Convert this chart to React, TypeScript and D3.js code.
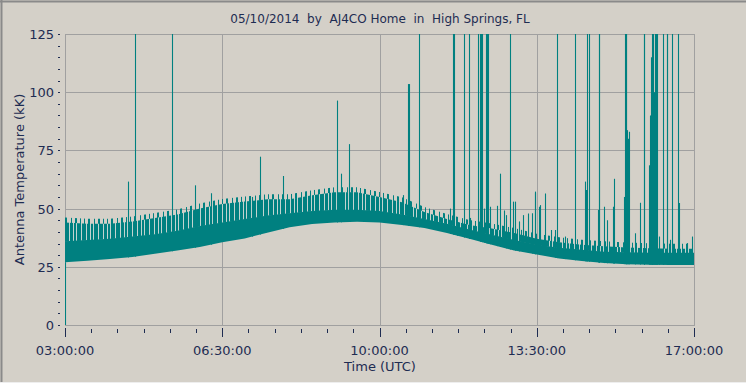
import React from "react";
import * as d3 from "d3";

// ---- Data ----
const title = "05/10/2014  by  AJ4CO Home  in  High Springs, FL";
const yTitle = "Antenna Temperature (kK)";
const xTitle = "Time (UTC)";

const xTickHours = [3, 6.5, 10, 13.5, 17];
const xTickLabels = ["03:00:00", "06:30:00", "10:00:00", "13:30:00", "17:00:00"];
const yTickValues = [0, 25, 50, 75, 100, 125];

// envelope sample times (UTC hours)
const envTimes = [3, 3.5, 4, 4.5, 5, 5.5, 6, 6.5, 7, 7.5, 8, 8.5, 9, 9.5, 10, 10.5, 11, 11.5, 12, 12.5, 13, 13.5, 14, 14.5, 15, 15.5, 16, 16.5, 17];
// bottom of noise band
const lowerEnv = [27, 27.6, 28.3, 29.2, 30.6, 32, 33.5, 35.5, 37.2, 39.6, 42, 43.4, 44, 44.4, 44, 43, 41.7, 39.5, 37, 34.5, 32, 30.3, 28.6, 27.5, 26.6, 26.1, 25.9, 25.8, 25.8];
// top of the solid part of the band
const denseTop = [36, 36.5, 37, 38, 39, 40.5, 42.5, 44, 45.5, 47, 48, 49, 49.5, 49.5, 49, 47.5, 45.5, 43.5, 41, 38.8, 36.5, 34.5, 33.2, 32.3, 31.5, 31.2, 31, 31, 31];
// tips of the noise fringe
const upperEnv = [44, 43.5, 43.5, 44.5, 46, 47.5, 50, 52, 53, 54, 54, 55.7, 57, 57, 55, 52.7, 48.5, 45.5, 43, 41.5, 39.5, 37, 35.5, 34.5, 33.8, 33.3, 33, 32.8, 32.8];

// individual spikes: time (hours) and peak value (kK); >125 means off the top
const spikeTimes = [
  3.0, 4.409, 4.558, 5.388, 5.9, 6.25, 7.155, 7.347, 7.859, 9.061, 9.15, 9.328,
  10.53, 10.634, 10.652, 10.886, 11.576, 11.636, 11.654, 11.732, 11.887, 11.998, 12.014, 12.185,
  12.248, 12.266, 12.284, 12.326, 12.381, 12.399, 12.417, 12.459, 12.622, 12.688, 12.771, 12.815,
  12.911, 12.964, 13.016, 13.112, 13.186, 13.312, 13.387, 13.461, 13.468, 13.557, 13.572, 13.69,
  13.817, 13.906, 13.957, 14.128, 14.358, 14.574, 14.59, 14.612, 14.663, 14.856, 14.878, 14.896,
  15.003, 15.063, 15.19, 15.226, 15.448, 15.464, 15.479, 15.495, 15.502, 15.52, 15.553, 15.686,
  15.804, 15.88, 15.898, 16.005, 16.025, 16.043, 16.058, 16.076, 16.094, 16.109, 16.131, 16.153,
  16.176, 16.22, 16.303, 16.392, 16.41, 16.465, 16.517, 16.65, 16.666, 16.837, 16.948
];
const spikeValues = [
  0, 61.6, 130, 130, 60, 56.6, 55, 72.3, 64, 96.4, 65, 77.7,
  55.8, 103.5, 103.5, 130, 50, 130, 130, 44.3, 130, 130, 46, 130,
  130, 130, 130, 50, 130, 130, 130, 50.8, 51.2, 65, 49.2, 47.2,
  130, 53, 53, 44.5, 47.2, 47.9, 48, 57.3, 56.9, 50.8, 51.5, 56.5,
  40.8, 40.8, 130, 38, 130, 61.6, 58, 130, 130, 49.4, 130, 130,
  50.8, 45, 50.8, 62.8, 55, 130, 130, 130, 83.7, 80, 83, 39.4,
  52.5, 130, 130, 68.6, 90, 115, 130, 112, 130, 100, 130, 130,
  130, 38, 130, 130, 130, 36.6, 130, 130, 52.4, 35.2, 38
];

// ---- Layout ----
const W = 746;
const H = 383;
const PL = 65, PR = 694, PT = 34, PB = 325;
const BG = "#D4D0C8";
const TEAL = "#008080";
const GAP = "#C2D4D0";
const GRID = "#A0A0A0";
const TXT = "#1E2C52";
const FONT = "'DejaVu Sans', Verdana, sans-serif";

export default function App() {
  const x = d3.scaleLinear().domain([3, 17]).range([PL, PR]);
  const y = d3.scaleLinear().domain([0, 125]).range([PB, PT]);
  const lowerAt = d3.scaleLinear().domain(envTimes).range(lowerEnv);

  const denseArea = d3
    .area<number>()
    .x((t) => x(t))
    .y0((_, i) => y(lowerEnv[i]))
    .y1((_, i) => y(denseTop[i]));
  const fringeArea = d3
    .area<number>()
    .x((t) => x(t))
    .y0((_, i) => y(denseTop[i]) + 0.5)
    .y1((_, i) => y(upperEnv[i]));
  const tipArea = d3
    .area<number>()
    .x((t) => x(t))
    .y0((_, i) => y(upperEnv[i]) + 0.5)
    .y1((_, i) => y(upperEnv[i]) - 5);

  const minorX = d3.range(3, 17.0001, 7 / 12);
  const minorY = d3.range(0, 125.0001, 5);

  return (
    <svg
      width={W}
      height={H}
      style={{ position: "absolute", left: 0, top: 0, display: "block" }}
      fontFamily={FONT}
    >
      <defs>
        <clipPath id="plotClip">
          <rect x={PL} y={PT} width={PR - PL} height={PB - PT} />
        </clipPath>
        <pattern id="fringe" width={17} height={8} patternUnits="userSpaceOnUse">
          <rect width={17} height={8} fill={TEAL} />
          <rect x={1} width={1} height={8} fill={GAP} />
          <rect x={5} width={1} height={8} fill={GAP} />
          <rect x={8} width={1} height={8} fill={GAP} />
          <rect x={13} width={1} height={8} fill={GAP} />
        </pattern>
        <pattern id="tips" width={23} height={8} patternUnits="userSpaceOnUse">
          <rect x={2} width={1} height={8} fill={TEAL} />
          <rect x={6} width={2} height={8} fill={TEAL} />
          <rect x={11} width={1} height={8} fill={TEAL} />
          <rect x={15} width={1} height={8} fill={TEAL} />
          <rect x={19} width={2} height={8} fill={TEAL} />
        </pattern>
      </defs>
      <rect width={W} height={H} fill={BG} />
      {/* window border */}
      <line x1={0} y1={1.5} x2={W} y2={1.5} stroke="#8A8A8A" strokeWidth={2} />
      <line x1={1.5} y1={0} x2={1.5} y2={H} stroke="#8A8A8A" strokeWidth={2} />
      <line x1={0} y1={H - 0.5} x2={W} y2={H - 0.5} stroke="#EEEEEE" />

      {/* title */}
      <text x={380} y={23} textAnchor="middle" fontSize={12} fill={TXT} style={{ whiteSpace: "pre" }}>
        {title}
      </text>

      {/* grid */}
      <g shapeRendering="crispEdges">
        {[25, 50, 75, 100].map((v) => (
          <line key={"gy" + v} x1={PL} x2={PR} y1={Math.round(y(v)) + 0.5} y2={Math.round(y(v)) + 0.5} stroke={GRID} />
        ))}
        {[6.5, 10, 13.5].map((h) => (
          <line key={"gx" + h} y1={PT} y2={PB} x1={Math.round(x(h)) + 0.5} x2={Math.round(x(h)) + 0.5} stroke={GRID} />
        ))}
        <rect x={PL + 0.5} y={PT + 0.5} width={PR - PL} height={PB - PT} fill="none" stroke={GRID} />
      </g>

      {/* data */}
      <g clipPath="url(#plotClip)">
        <path d={tipArea(envTimes) || ""} fill="url(#tips)" />
        <path d={fringeArea(envTimes) || ""} fill="url(#fringe)" />
        <path d={denseArea(envTimes) || ""} fill={TEAL} />
        <g>
          {spikeTimes.map((t, i) => {
            const xx = Math.round(x(t)) + 0.5;
            return (
              <line
                key={"s" + i}
                x1={xx}
                x2={xx}
                y1={y(lowerAt(t))}
                y2={y(Math.min(spikeValues[i], 127))}
                stroke={TEAL}
                strokeWidth={1.1}
              />
            );
          })}
        </g>
      </g>

      {/* y axis ticks + labels */}
      <g shapeRendering="crispEdges">
        {minorY.map((v) => (
          <line key={"ty" + v} x1={58} x2={60} y1={Math.round(y(v)) + 0.5} y2={Math.round(y(v)) + 0.5} stroke={TXT} />
        ))}
      </g>
      {yTickValues.map((v) => (
        <text key={"ly" + v} x={54} y={y(v) + 5} textAnchor="end" fontSize={13} fill={TXT}>
          {v}
        </text>
      ))}

      {/* x axis ticks + labels */}
      <g shapeRendering="crispEdges">
        {minorX.map((h, i) => {
          const major = i % 6 === 0;
          const xx = Math.round(x(h)) + 0.5;
          return (
            <line key={"tx" + i} x1={xx} x2={xx} y1={major ? 328 : 329} y2={major ? 337 : 333} stroke={TXT} />
          );
        })}
      </g>
      {xTickHours.map((h, i) => (
        <text key={"lx" + h} x={x(h)} y={355} textAnchor="middle" fontSize={13} fill={TXT}>
          {xTickLabels[i]}
        </text>
      ))}

      {/* axis titles */}
      <text x={380} y={371} textAnchor="middle" fontSize={13} fill={TXT}>
        {xTitle}
      </text>
      <text
        transform={`translate(24, ${(PT + PB) / 2}) rotate(-90)`}
        textAnchor="middle"
        fontSize={13}
        fill={TXT}
      >
        {yTitle}
      </text>
    </svg>
  );
}
